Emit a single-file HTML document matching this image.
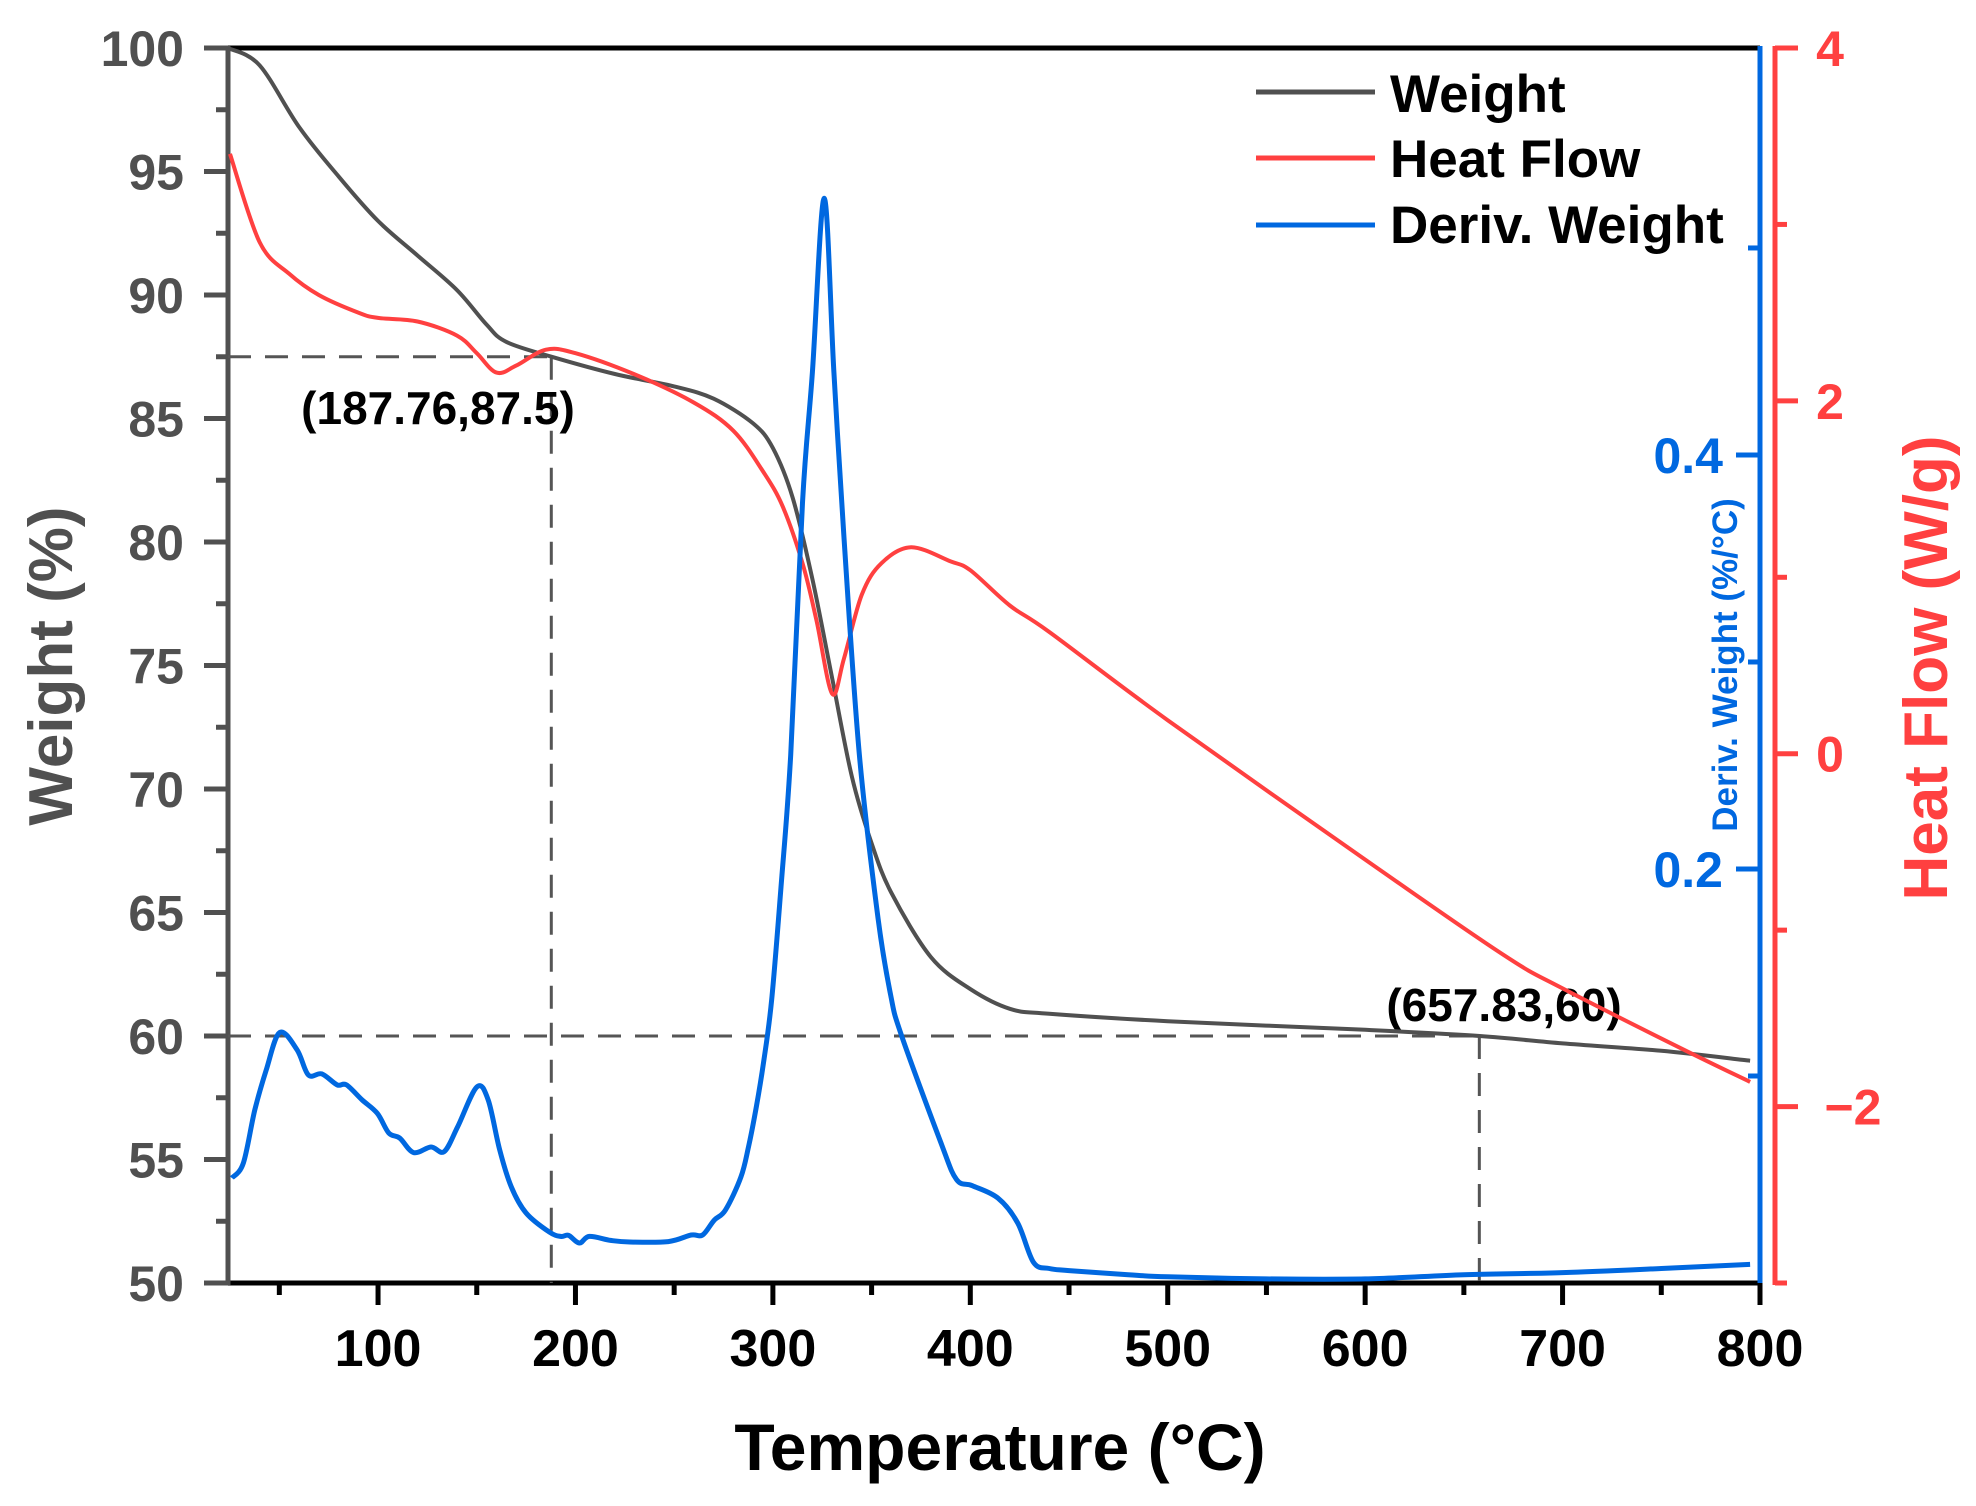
<!DOCTYPE html>
<html><head><meta charset="utf-8">
<style>
html,body{margin:0;padding:0;background:#fff;}
svg{display:block;font-family:"Liberation Sans",Arial,sans-serif;font-weight:bold;}
</style></head>
<body>
<svg id="chart" width="1976" height="1506" viewBox="0 0 1976 1506" xmlns="http://www.w3.org/2000/svg">
<g id="axes"></g>
<g id="series"></g>
<g>
  <line x1="1256" y1="92" x2="1375" y2="92" stroke="#505050" stroke-width="5"/>
  <text x="1390" y="112" font-size="53">Weight</text>
  <line x1="1256" y1="158" x2="1375" y2="158" stroke="#ff4040" stroke-width="5"/>
  <text x="1390" y="177" font-size="53">Heat Flow</text>
  <line x1="1256" y1="225" x2="1375" y2="225" stroke="#0068e0" stroke-width="5"/>
  <text x="1390" y="243" font-size="53">Deriv. Weight</text>
</g>
<text x="1000" y="1470" font-size="66" text-anchor="middle" fill="#000">Temperature (°C)</text>
<text transform="translate(72,666) rotate(-90)" font-size="62" text-anchor="middle" fill="#505050">Weight (%)</text>
<text transform="translate(1737,665) rotate(-90)" font-size="35" text-anchor="middle" fill="#0068e0">Deriv. Weight (%/°C)</text>
<text transform="translate(1947,668) rotate(-90)" font-size="62" text-anchor="middle" fill="#ff4040">Heat Flow (W/g)</text>
</svg>
<script>
// ---- data ----
var wT = [24,40,60,80,100,120,140,155,165,188,220,250,270,290,300,310,320,330,340,350,360,380,400,420,440,500,600,658,700,750,795];
var wV = [100,99.3,96.8,94.8,93,91.6,90.2,88.8,88.1,87.5,86.8,86.3,85.8,84.8,83.8,81.8,78.5,74.5,70.5,67.8,65.8,63.2,61.9,61.1,60.9,60.6,60.25,60,59.7,59.4,59];
var hT = [25,40,55,70,90,100,120,140,150,160,170,185,200,230,260,280,295,305,315,322,330,336,345,355,370,390,400,420,440,500,600,670,700,760,795];
var hV = [3.4,2.9,2.72,2.6,2.5,2.47,2.45,2.37,2.27,2.16,2.2,2.29,2.27,2.15,1.99,1.83,1.6,1.4,1.08,0.76,0.34,0.54,0.9,1.08,1.17,1.09,1.04,0.84,0.69,0.19,-0.6,-1.14,-1.33,-1.67,-1.86];
var dT = [26,31.8,37.6,43.4,50.2,59,64.7,71.5,79.3,84,92,99.6,105.4,111,118,126.8,133.5,140.3,150,155.8,161.6,167.5,175,186.8,192.6,196.5,202,207,217.8,227.5,247,258.6,264.4,270.3,276,283.8,287.7,291.6,295.5,299.4,304,309,315,320,326,330.9,336,343.8,353.3,359.7,365,385,393,401,414,424,432,440,450,480,500,550,600,650,700,750,795];
var dV = [0.0507,0.058,0.0836,0.103,0.121,0.1126,0.1005,0.101,0.0957,0.0957,0.0884,0.082,0.0725,0.070,0.063,0.0657,0.0635,0.0754,0.0947,0.0884,0.0643,0.0464,0.0338,0.0246,0.0225,0.023,0.0193,0.0225,0.0206,0.0198,0.02,0.0232,0.0232,0.0304,0.0353,0.0512,0.066,0.085,0.108,0.137,0.19,0.255,0.377,0.44,0.524,0.44,0.36,0.255,0.176,0.139,0.12,0.068,0.050,0.047,0.041,0.029,0.010,0.007,0.006,0.004,0.003,0.002,0.002,0.004,0.005,0.007,0.009];
var xTicks = [100,200,300,400,500,600,700,800];
var wTicks = [50,55,60,65,70,75,80,85,90,95,100];
var hTicks = [-2,0,2,4];
var dTicks = [0.2,0.4];
var annoPts = [[187.76,87.5],[657.83,60]];
var annoLabels = ["(187.76,87.5)","(657.83,60)"];

// ---- scales ----
var L=228,R=1760,T=48,B=1283;
function X(t){return L+(t-24)/(800-24)*(R-L);}
function YW(v){return B-(v-50)/50*(B-T);}
function YH(v){return B-(v+3)/7*(B-T);}
function YD(v){return B-v/0.5966*(B-T);}
var NS="http://www.w3.org/2000/svg";
function mk(tag,attrs,parent){var e=document.createElementNS(NS,tag);for(var k in attrs)e.setAttribute(k,attrs[k]);parent.appendChild(e);return e;}
var ax=document.getElementById('axes'), sr=document.getElementById('series');
function smooth(pts){var d="M"+pts[0][0].toFixed(1)+","+pts[0][1].toFixed(1);
 for(var i=0;i<pts.length-1;i++){var p0=pts[i-1]||pts[i],p1=pts[i],p2=pts[i+1],p3=pts[i+2]||p2;
  var c1=[p1[0]+(p2[0]-p0[0])/6,p1[1]+(p2[1]-p0[1])/6],c2=[p2[0]-(p3[0]-p1[0])/6,p2[1]-(p3[1]-p1[1])/6];
  d+=" C"+c1[0].toFixed(1)+","+c1[1].toFixed(1)+" "+c2[0].toFixed(1)+","+c2[1].toFixed(1)+" "+p2[0].toFixed(1)+","+p2[1].toFixed(1);}
 return d;}

// annotation dashed lines
annoPts.forEach(function(p,i){
 var h=mk('line',{x1:L,y1:YW(p[1]),x2:X(p[0]),y2:YW(p[1]),stroke:'#555','stroke-width':3,'stroke-dasharray':'23,14'},sr);
 
 
 var v=mk('line',{x1:X(p[0]),y1:YW(p[1]),x2:X(p[0]),y2:B,stroke:'#555','stroke-width':3,'stroke-dasharray':'23,14'},sr);
 
 
});
var a1=mk('text',{x:438,y:424,'font-size':46,'text-anchor':'middle',fill:'#000'},sr);a1.textContent=annoLabels[0];


var a2=mk('text',{x:1504,y:1021,'font-size':46,'text-anchor':'middle',fill:'#000'},sr);a2.textContent=annoLabels[1];



// series
var pw=mk('path',{d:smooth(wT.map(function(t,i){return [X(t),YW(wV[i])];})),fill:'none',stroke:'#505050','stroke-width':4},sr);


var ph=mk('path',{d:smooth(hT.map(function(t,i){return [X(t),YH(hV[i])];})),fill:'none',stroke:'#ff4040','stroke-width':4},sr);


var pd=mk('path',{d:smooth(dT.map(function(t,i){return [X(t),YD(dV[i])];})),fill:'none',stroke:'#0068e0','stroke-width':5},sr);



// axes lines
var topLine=mk('line',{x1:L,y1:T,x2:R,y2:T,stroke:'#000','stroke-width':5},ax);


var xl=mk('line',{x1:L-2,y1:B,x2:R+2,y2:B,stroke:'#000','stroke-width':5},ax);


var yl=mk('line',{x1:L,y1:T-2,x2:L,y2:B+2,stroke:'#505050','stroke-width':5},ax);


var bl=mk('line',{x1:R,y1:T-2,x2:R,y2:B,stroke:'#0068e0','stroke-width':5},ax);


var rl=mk('line',{x1:1775,y1:T-2,x2:1775,y2:B+2,stroke:'#ff4040','stroke-width':5},ax);



// x ticks
xTicks.forEach(function(t){
 var tk=mk('line',{x1:X(t),y1:B,x2:X(t),y2:B+22,stroke:'#000','stroke-width':5},ax);
 
 
 var mt=t-50; if(mt>24){var m=mk('line',{x1:X(mt),y1:B,x2:X(mt),y2:B+12,stroke:'#000','stroke-width':5},ax);
 
 }
 var lb=mk('text',{x:X(t),y:1366,'font-size':52,'text-anchor':'middle',fill:'#000'},ax);lb.textContent=t;
 
 
});
// weight ticks
wTicks.forEach(function(v){
 var tk=mk('line',{x1:L-24,y1:YW(v),x2:L,y2:YW(v),stroke:'#505050','stroke-width':5},ax);
 
 
 if(v<100){var m=mk('line',{x1:L-12,y1:YW(v+2.5),x2:L,y2:YW(v+2.5),stroke:'#505050','stroke-width':5},ax);
 
 }
 var lb=mk('text',{x:184,y:YW(v)+18,'font-size':50,'text-anchor':'end',fill:'#505050'},ax);lb.textContent=v;
 
 
});
// heat flow ticks
hTicks.forEach(function(v){
 var tk=mk('line',{x1:1775,y1:YH(v),x2:1798,y2:YH(v),stroke:'#ff4040','stroke-width':5},ax);
 
 
 var m=mk('line',{x1:1775,y1:YH(v-1),x2:1787,y2:YH(v-1),stroke:'#ff4040','stroke-width':5},ax);
 
 
 var lb=mk('text',{x:v<0?1853:1830,y:YH(v)+18,'font-size':50,'text-anchor':'middle',fill:'#ff4040'},ax);lb.textContent=v<0?('\u2212'+(-v)):v;
 
 
});
// deriv ticks
dTicks.forEach(function(v){
 var tk=mk('line',{x1:1736,y1:YD(v),x2:R,y2:YD(v),stroke:'#0068e0','stroke-width':5},ax);
 
 
 var lb=mk('text',{x:1723,y:YD(v)+18,'font-size':50,'text-anchor':'end',fill:'#0068e0'},ax);lb.textContent=v.toFixed(1);
 
 
});
[0.1,0.3,0.5].forEach(function(v){
 var m=mk('line',{x1:1748,y1:YD(v),x2:R,y2:YD(v),stroke:'#0068e0','stroke-width':5},ax);
 
 
});
</script>
</body></html>
